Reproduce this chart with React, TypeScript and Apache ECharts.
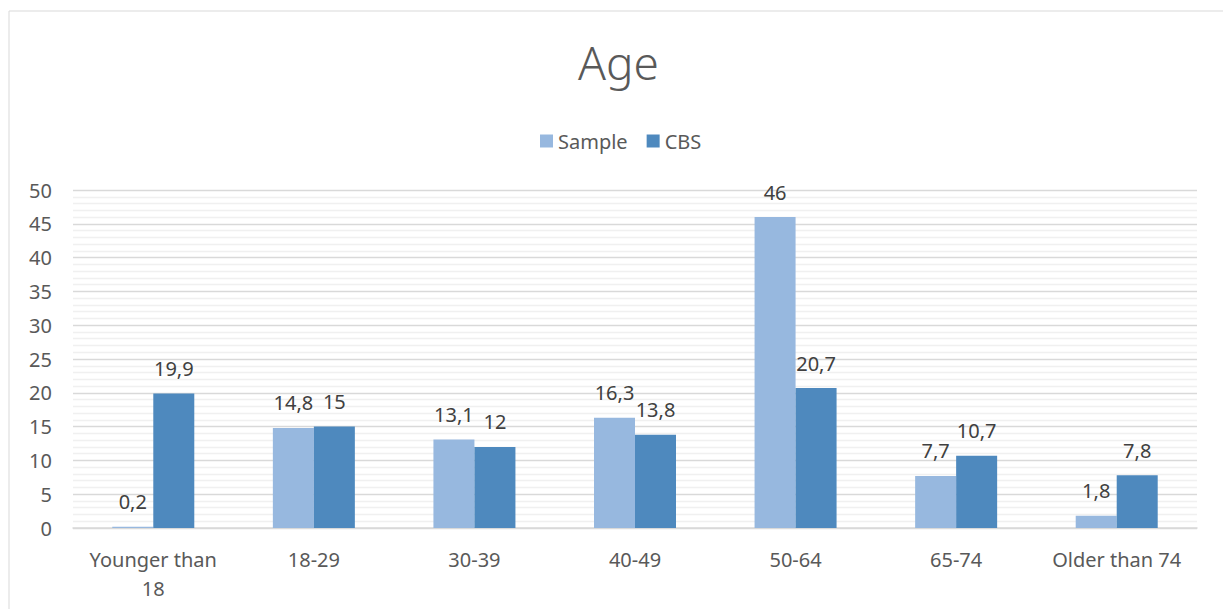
import React, { useEffect, useRef } from "react";
import * as echarts from "echarts";

const categories = ["Younger than\n18", "18-29", "30-39", "40-49", "50-64", "65-74", "Older than 74"];
const sampleValues = [0.2, 14.8, 13.1, 16.3, 46, 7.7, 1.8];
const cbsValues = [19.9, 15, 12, 13.8, 20.7, 10.7, 7.8];
const seriesNames = ["Sample", "CBS"];
const yTicks = { min: 0, max: 50, interval: 5 };

const FONT = "'Noto Sans', 'Open Sans', sans-serif";
const fmt = (p: any) => String(p.value).replace(".", ",");

export default function App() {
  const ref = useRef<HTMLDivElement>(null);
  useEffect(() => {
    if (!ref.current) return;
    const chart = echarts.init(ref.current, null, { renderer: "svg" });
    chart.setOption({
      animation: false,
      backgroundColor: "#ffffff",
      textStyle: { fontFamily: FONT },
      graphic: [
        {
          type: "rect",
          shape: { x: 9, y: 11, width: 1230, height: 620 },
          style: { fill: "none", stroke: "#d9d9d9", lineWidth: 1 },
          silent: true,
        },
      ],
      title: {
        text: "Age",
        left: 573,
        top: 34,
        textStyle: { fontFamily: FONT, fontSize: 46, fontWeight: 300, color: "#595959" },
      },
      legend: {
        top: 126,
        left: 535,
        itemWidth: 13,
        itemHeight: 13,
        itemGap: 19,
        icon: "rect",
        textStyle: { fontFamily: FONT, fontSize: 20, color: "#595959" },
        data: seriesNames,
      },
      grid: { left: 73, right: 26, top: 190, bottom: 81, containLabel: false },
      xAxis: {
        type: "category",
        data: categories,
        axisTick: { show: false },
        axisLine: { lineStyle: { color: "#d9d9d9", width: 1.5 } },
        axisLabel: { fontFamily: FONT, fontSize: 20, color: "#595959", margin: 17, lineHeight: 29, interval: 0 },
      },
      yAxis: {
        type: "value",
        min: yTicks.min,
        max: yTicks.max,
        interval: yTicks.interval,
        axisLine: { show: false },
        axisTick: { show: false },
        axisLabel: { fontFamily: FONT, fontSize: 20, color: "#595959", margin: 21 },
        splitLine: { lineStyle: { color: "#d9d9d9", width: 1.3 } },
        minorTick: { show: false, splitNumber: 5 },
        minorSplitLine: { show: true, lineStyle: { color: "#f0f0f0", width: 1.3 } },
      },
      series: [
        {
          name: seriesNames[0],
          type: "bar",
          data: sampleValues,
          barWidth: 41,
          barGap: "0%",
          itemStyle: { color: "#97b8df" },
          label: { show: true, position: "top", distance: 15, formatter: fmt, fontFamily: FONT, fontSize: 20, color: "#404040" },
        },
        {
          name: seriesNames[1],
          type: "bar",
          data: cbsValues,
          barWidth: 41,
          barGap: "0%",
          itemStyle: { color: "#4e89be" },
          label: { show: true, position: "top", distance: 15, formatter: fmt, fontFamily: FONT, fontSize: 20, color: "#404040" },
        },
      ],
    });
    return () => chart.dispose();
  }, []);
  return <div ref={ref} style={{ position: "fixed", left: 0, top: 0, width: 1223, height: 609 }} />;
}
